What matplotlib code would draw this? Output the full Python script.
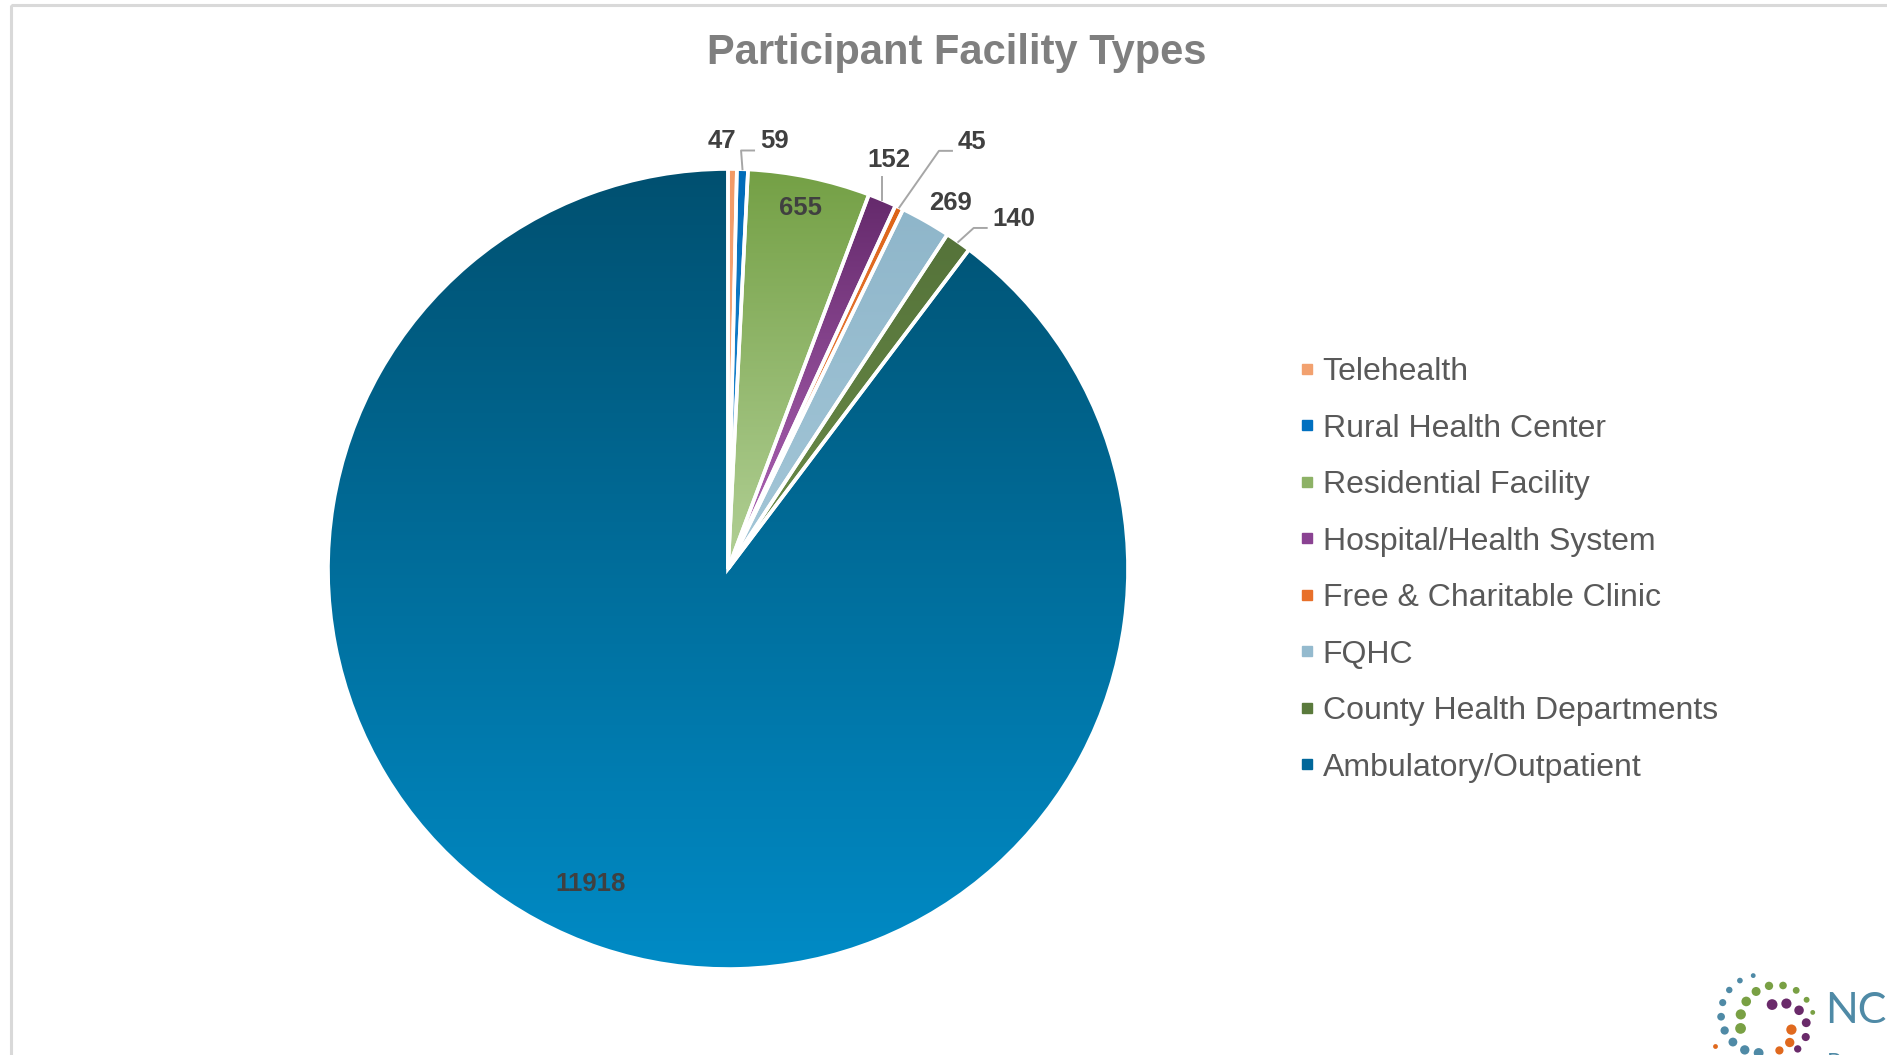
import numpy as np
import matplotlib
matplotlib.use("Agg")
import matplotlib.pyplot as plt
from matplotlib.colors import to_rgb
from matplotlib.lines import Line2D
from matplotlib.patches import Rectangle

plt.rcParams['font.family'] = ['Liberation Sans', 'DejaVu Sans']

# data
categories = ["Telehealth", "Rural Health Center", "Residential Facility",
              "Hospital/Health System", "Free & Charitable Clinic", "FQHC",
              "County Health Departments", "Ambulatory/Outpatient"]
counts = [47, 59, 655, 152, 45, 269, 140, 11918]

# gradient colours per slice (top, bottom)
top_colors = ["#f29a66", "#006cb8", "#74a045", "#652a6c", "#dd6418", "#8fb6ca", "#55733a", "#005070"]
bottom_colors = ["#f7b892", "#2a90d8", "#b2d096", "#b368bb", "#f39059", "#a4c7d8", "#6b8c48", "#008bc6"]
legend_colors = ["#f2a16f", "#0070c0", "#8db266", "#8a4292", "#e8702a", "#94bace", "#5a7a3c", "#00679a"]

# label placement: angle offset (deg, clockwise), radius, leader type
lab_off = [-1.4, 4.1, -0.4, -1.2, 4.4, 1.7, 4.1, 5.1]
lab_r = [1.07, 1.075, 0.92, 1.10, 1.23, 1.07, 1.13, 0.86]
lab_lead = [None, "elbow", None, "vert", "elbow", None, "elbow", None]

W, H = 1887, 1055
fig = plt.figure(figsize=(W / 100, H / 100), dpi=100)

# background overlay in pixel coords (frame + logo)
bg = fig.add_axes([0, 0, 1, 1], zorder=0)
bg.set_xlim(0, W)
bg.set_ylim(H, 0)
bg.axis("off")
bg.add_patch(Rectangle((11, 5), W + 50, H + 50, fill=False, edgecolor="#d9d9d9", linewidth=2.2))

# logo dots (decoration)
def arc(cx, cy, r, a0, a1, n, s0, s1, col):
    a = np.radians(np.linspace(a0, a1, n))
    bg.scatter(cx + r * np.cos(a), cy - r * np.sin(a), s=np.linspace(s0, s1, n), color=col, linewidths=0)

arc(1760, 1014, 39, 100, 268, 9, 12, 50, "#4f8aa6")
arc(1777, 1022, 37, 190, 15, 9, 60, 12, "#79a044")
arc(1781, 1029, 26, 110, -50, 6, 60, 28, "#6a2a6a")
arc(1775, 1034, 17, 15, -75, 3, 55, 35, "#e0691e")
bg.scatter([1715], [1046], s=12, color="#e0691e", linewidths=0)
bg.text(1825, 1023, "NC", fontsize=31, color="#4f8aa6", family=["Lato", "DejaVu Sans"],
        va="baseline", ha="left")
bg.text(1827, 1070, "Powered", fontsize=17, color="#4f8aa6", family=["Lato", "DejaVu Sans"],
        va="baseline", ha="left")

# pie axes: centre at (728, 569) px, radius 400 px
R = 400
cx, cy = 728, 569
lim = 1.2
ax = fig.add_axes([(cx - lim * R) / W, (H - cy - lim * R) / H, 2 * lim * R / W, 2 * lim * R / H], zorder=1)

wedges, _ = ax.pie(counts, startangle=90, counterclock=False, radius=1,
                   wedgeprops=dict(edgecolor="white", linewidth=2.6))

for i, w in enumerate(wedges):
    th = np.radians(np.linspace(w.theta1, w.theta2, 200))
    ys = np.concatenate([np.sin(th), [0]])
    y0, y1 = ys.min(), ys.max()
    c0 = np.array(to_rgb(bottom_colors[i]))
    c1 = np.array(to_rgb(top_colors[i]))
    t = np.linspace(0, 1, 256)[:, None, None]
    grad = c0 * (1 - t) + c1 * t
    im = ax.imshow(grad, extent=[-1, 1, y0, y1], origin="lower", aspect="auto", zorder=1)
    im.set_clip_path(w)
    w.set_facecolor("none")
    w.set_zorder(2)

# data labels
px = 1.0 / R
for i, w in enumerate(wedges):
    mid = (w.theta1 + w.theta2) / 2.0
    a = np.radians(mid - lab_off[i])
    xl, yl = lab_r[i] * np.cos(a), lab_r[i] * np.sin(a)
    ax.text(xl, yl, str(counts[i]), fontsize=18.5, fontweight="bold", color="#404040",
            ha="center", va="center", zorder=5)
    x0, y0 = np.cos(np.radians(mid)), np.sin(np.radians(mid))
    if lab_lead[i] == "elbow":
        half = len(str(counts[i])) * 0.556 * 25.5 * px / 2
        left = xl - half - 6 * px
        ly = yl - 9 * px
        ax.plot([x0, left - 13 * px, left], [y0, ly, ly], color="#a6a6a6", lw=1.4, zorder=4)
    elif lab_lead[i] == "vert":
        ax.plot([x0, x0], [y0, yl - 17 * px], color="#a6a6a6", lw=1.4, zorder=4)

ax.set_xlim(-lim, lim)
ax.set_ylim(-lim, lim)
ax.set_aspect("equal")
ax.axis("off")

fig.text(957 / W, 1 - 53 / H, "Participant Facility Types", fontsize=30, fontweight="bold",
         color="#7f7f7f", ha="center", va="center")

handles = [Line2D([], [], marker="s", linestyle="", markersize=7.5, color=c) for c in legend_colors]
fig.legend(handles, categories, loc="upper left", bbox_to_anchor=(1297 / W, 1 - 357 / H),
           frameon=False, fontsize=23, labelcolor="#595959", handlelength=0.6,
           handletextpad=0.2, labelspacing=0.83, borderpad=0, borderaxespad=0)

fig.savefig("out.png", dpi=100, facecolor="white")
